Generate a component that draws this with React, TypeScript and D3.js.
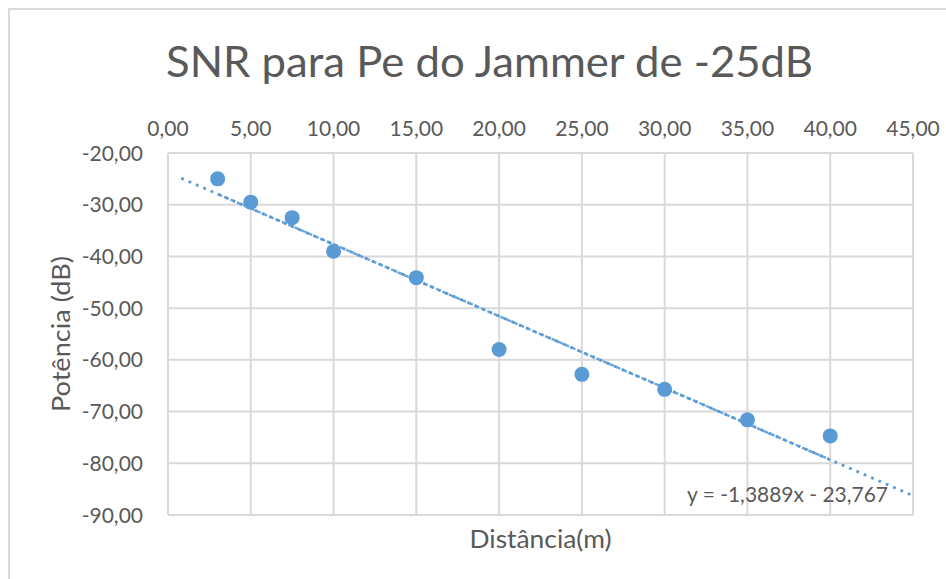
import React from "react";
import * as d3 from "d3";

// Measured distance (m) and received power (dB)
const distances = [3, 5, 7.5, 10, 15, 20, 25, 30, 35, 40];
const powers = [-25.0, -29.5, -32.5, -39.0, -44.1, -58.0, -62.8, -65.7, -71.6, -74.7];

// Axis ticks
const xTickValues = [0, 5, 10, 15, 20, 25, 30, 35, 40, 45];
const yTickValues = [-20, -30, -40, -50, -60, -70, -80, -90];

// Linear trendline (slope, intercept) and its drawn extent with forecast
const trendSlope = -1.3889;
const trendIntercept = -23.767;
const trendForecastRange = [0.8, 45];
const trendFitRange = [3, 40];

const title = "SNR para Pe do Jammer de -25dB";
const xTitle = "Distância(m)";
const yTitle = "Potência (dB)";
const equationLabel = "y = -1,3889x - 23,767";

const W = 946;
const H = 579;
const plot = { left: 168, right: 913, top: 153, bottom: 515 };

const ptLocale = d3.formatLocale({
  decimal: ",",
  thousands: ".",
  grouping: [3],
  currency: ["", ""],
  minus: "-",
});
const fmt = ptLocale.format(".2f");

const FONT = "Lato, 'Open Sans', sans-serif";
const TEXT = "#595959";
const GRID = "#d9d9d9";
const BLUE = "#5b9bd5";

export default function App() {
  const x = d3.scaleLinear().domain([0, 45]).range([plot.left, plot.right]);
  const y = d3.scaleLinear().domain([-90, -20]).range([plot.bottom, plot.top]);

  const trend = (v: number) => trendSlope * v + trendIntercept;
  const line = d3
    .line<number>()
    .x((v) => x(v))
    .y((v) => y(trend(v)));

  const points = distances.map((d, i) => ({ d, p: powers[i] }));

  return (
    <svg
      width={W}
      height={H}
      style={{ position: "absolute", left: 0, top: 0, background: "#fff" }}
      fontFamily={FONT}
    >
      <rect x={0} y={0} width={W} height={H} fill="#fff" />
      {/* chart frame */}
      <rect x={9} y={9} width={W + 20} height={H + 20} fill="none" stroke={GRID} strokeWidth={2} />

      <text x={166} y={77} fontSize={43} fill={TEXT} textLength={647} lengthAdjust="spacingAndGlyphs">
        {title}
      </text>

      {/* gridlines */}
      <g stroke={GRID} strokeWidth={2}>
        {xTickValues.map((t) => (
          <line key={"vx" + t} x1={x(t)} x2={x(t)} y1={plot.top} y2={plot.bottom} />
        ))}
        {yTickValues.map((t) => (
          <line key={"hy" + t} x1={plot.left} x2={plot.right} y1={y(t)} y2={y(t)} />
        ))}
      </g>

      {/* x tick labels above the plot */}
      <g fontSize={21} fill={TEXT} textAnchor="middle">
        {xTickValues.map((t) => (
          <text key={"xl" + t} x={x(t)} y={136}>
            {fmt(t)}
          </text>
        ))}
      </g>

      {/* y tick labels */}
      <g fontSize={21} fill={TEXT} textAnchor="end">
        {yTickValues.map((t) => (
          <text key={"yl" + t} x={143} y={y(t) + 7.5}>
            {fmt(t)}
          </text>
        ))}
      </g>

      {/* markers */}
      <g fill={BLUE}>
        {points.map((pt, i) => (
          <circle key={i} cx={x(pt.d)} cy={y(pt.p)} r={7.5} />
        ))}
      </g>

      {/* trendline: forecast extent dotted, fitted span denser */}
      <path
        d={line(trendForecastRange) || ""}
        fill="none"
        stroke={BLUE}
        strokeWidth={2.8}
        strokeDasharray="2.8,5.2"
      />
      <path
        d={line(trendFitRange) || ""}
        fill="none"
        stroke={BLUE}
        strokeWidth={2.4}
        strokeDasharray="5,2"
        opacity={0.9}
      />

      <text x={687} y={502} fontSize={21} fill={TEXT} textLength={201} lengthAdjust="spacingAndGlyphs">
        {equationLabel}
      </text>

      <text
        x={(plot.left + plot.right) / 2}
        y={548}
        fontSize={25}
        fill={TEXT}
        textAnchor="middle"
        textLength={142}
        lengthAdjust="spacingAndGlyphs"
      >
        {xTitle}
      </text>

      <text
        transform={`translate(70, ${(plot.top + plot.bottom) / 2}) rotate(-90)`}
        fontSize={25}
        fill={TEXT}
        textAnchor="middle"
        textLength={156}
        lengthAdjust="spacingAndGlyphs"
      >
        {yTitle}
      </text>
    </svg>
  );
}
